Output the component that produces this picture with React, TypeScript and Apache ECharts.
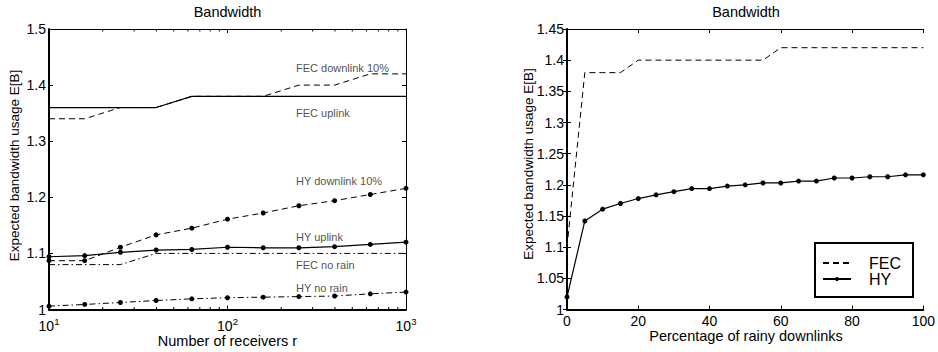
import React, { useEffect, useRef } from "react";
import * as echarts from "echarts";

// ---------- data ----------
const receivers = [10, 15.85, 25.12, 39.81, 63.1, 100, 158.5, 251.2, 398.1, 631, 1000];
const fecDownlink10 = [1.34, 1.34, 1.36, 1.36, 1.38, 1.38, 1.38, 1.40, 1.40, 1.42, 1.42];
const fecUplink = [1.36, 1.36, 1.36, 1.36, 1.38, 1.38, 1.38, 1.38, 1.38, 1.38, 1.38];
const hyDownlink10 = [1.087, 1.087, 1.111, 1.133, 1.145, 1.161, 1.172, 1.185, 1.194, 1.205, 1.216];
const hyUplink = [1.094, 1.096, 1.102, 1.106, 1.107, 1.111, 1.110, 1.110, 1.112, 1.116, 1.120];
const fecNoRain = [1.08, 1.08, 1.08, 1.10, 1.10, 1.10, 1.10, 1.10, 1.10, 1.10, 1.10];
const hyNoRain = [1.006, 1.009, 1.0125, 1.016, 1.019, 1.021, 1.022, 1.023, 1.024, 1.028, 1.031];

const rainyPct = [0, 5, 10, 15, 20, 25, 30, 35, 40, 45, 50, 55, 60, 65, 70, 75, 80, 85, 90, 95, 100];
const fecRainy = [1.10, 1.38, 1.38, 1.38, 1.40, 1.40, 1.40, 1.40, 1.40, 1.40, 1.40, 1.40, 1.42, 1.42, 1.42, 1.42, 1.42, 1.42, 1.42, 1.42, 1.42];
const hyRainy = [1.020, 1.142, 1.161, 1.170, 1.178, 1.184, 1.189, 1.194, 1.194, 1.198, 1.200, 1.203, 1.203, 1.206, 1.206, 1.211, 1.211, 1.213, 1.213, 1.216, 1.216];

const minorLogTicks = [20, 30, 40, 50, 60, 70, 80, 90, 200, 300, 400, 500, 600, 700, 800, 900];

// annotation labels: [x (receivers), y (E[B]), text]
const annotations: [number, number, string][] = [
  [242, 1.430, "FEC downlink 10%"],
  [242, 1.350, "FEC uplink"],
  [242, 1.229, "HY downlink 10%"],
  [242, 1.129, "HY uplink"],
  [242, 1.079, "FEC no rain"],
  [242, 1.038, "HY no rain"],
];

const FONT = "'Liberation Sans', Arial, Helvetica, sans-serif";
const BLACK = "#000";
const DASH = [6, 4];
const DASHDOT = [6, 3, 1.5, 3];

const zip = (xs: number[], ys: number[]) => xs.map((x, i) => [x, ys[i]]);

export default function App() {
  const ref = useRef<HTMLDivElement>(null);
  useEffect(() => {
    if (!ref.current) return;
    const chart = echarts.init(ref.current, undefined, { renderer: "svg" });

    const labelStyle = { color: BLACK, fontFamily: FONT, fontSize: 14 };

    const bottomAxisLine = { show: true, lineStyle: { color: BLACK, width: 2 } };
    const topAxisLine = { show: true, lineStyle: { color: BLACK, width: 1 } };
    const tick = { show: true, inside: true, length: 4, lineStyle: { color: BLACK, width: 1 } };

    const lineBase = {
      type: "line" as const,
      smooth: false,
      showSymbol: true,
      symbol: "circle",
      symbolSize: 5,
      itemStyle: { color: BLACK },
      emphasis: { disabled: true },
    };

    const option: any = {
      animation: false,
      backgroundColor: "#fff",
      grid: [
        { left: 49, top: 29, width: 357, height: 280.5, show: false },
        { left: 567, top: 29, width: 358, height: 280.5, show: false },
      ],
      xAxis: [
        {
          gridIndex: 0,
          type: "log",
          logBase: 10,
          min: 10,
          max: 1000,
          position: "bottom",
          axisLine: bottomAxisLine,
          axisTick: tick,
          splitLine: { show: false },
          axisLabel: {
            margin: 7,
            color: BLACK,
            fontFamily: FONT,
            formatter: (v: number) => `{b|10}{s|${Math.round(Math.log10(v))}}`,
            rich: {
              b: { fontSize: 14, fontFamily: FONT, color: BLACK, verticalAlign: "bottom" },
              s: { fontSize: 9.5, fontFamily: FONT, color: BLACK, verticalAlign: "bottom", padding: [0, 0, 6, 0] },
            },
          },
        },
        {
          gridIndex: 0,
          type: "log",
          logBase: 10,
          min: 10,
          max: 1000,
          position: "top",
          axisLine: topAxisLine,
          axisTick: tick,
          axisLabel: { show: false },
          splitLine: { show: false },
        },
        {
          gridIndex: 1,
          type: "value",
          min: 0,
          max: 100,
          interval: 20,
          position: "bottom",
          axisLine: bottomAxisLine,
          axisTick: tick,
          splitLine: { show: false },
          axisLabel: { ...labelStyle, margin: 4 },
        },
        {
          gridIndex: 1,
          type: "value",
          min: 0,
          max: 100,
          interval: 20,
          position: "top",
          axisLine: topAxisLine,
          axisTick: tick,
          axisLabel: { show: false },
          splitLine: { show: false },
        },
      ],
      yAxis: [
        {
          gridIndex: 0,
          type: "value",
          min: 1,
          max: 1.5,
          interval: 0.1,
          position: "left",
          axisLine: bottomAxisLine,
          axisTick: tick,
          splitLine: { show: false },
          axisLabel: { ...labelStyle, margin: 3 },
        },
        {
          gridIndex: 0,
          type: "value",
          min: 1,
          max: 1.5,
          interval: 0.1,
          position: "right",
          axisLine: topAxisLine,
          axisTick: tick,
          axisLabel: { show: false },
          splitLine: { show: false },
        },
        {
          gridIndex: 1,
          type: "value",
          min: 1,
          max: 1.45,
          interval: 0.05,
          position: "left",
          axisLine: bottomAxisLine,
          axisTick: tick,
          splitLine: { show: false },
          axisLabel: { ...labelStyle, margin: 3 },
        },
        {
          gridIndex: 1,
          type: "value",
          min: 1,
          max: 1.45,
          interval: 0.05,
          position: "right",
          axisLine: topAxisLine,
          axisTick: tick,
          axisLabel: { show: false },
          splitLine: { show: false },
        },
      ],
      legend: {
        data: [
          { name: "FEC", itemStyle: { color: "rgba(0,0,0,0)", borderWidth: 0 } },
          { name: "HY" },
        ],
        orient: "vertical",
        left: 815,
        top: 243,
        borderColor: BLACK,
        borderWidth: 2,
        borderRadius: 0,
        backgroundColor: "#fff",
        padding: [12, 12, 10, 7],
        itemWidth: 28,
        itemHeight: 5,
        itemGap: 0,
        selectedMode: false,
        textStyle: { color: BLACK, fontFamily: FONT, fontSize: 16, padding: [0, 0, 0, 13] },
      },
      series: [
        // ----- left panel -----
        {
          ...lineBase,
          name: "FEC downlink 10%",
          xAxisIndex: 0,
          yAxisIndex: 0,
          showSymbol: false,
          data: zip(receivers, fecDownlink10),
          lineStyle: { color: BLACK, width: 1, type: DASH },
        },
        {
          ...lineBase,
          name: "FEC uplink",
          xAxisIndex: 0,
          yAxisIndex: 0,
          showSymbol: false,
          data: zip(receivers, fecUplink),
          lineStyle: { color: BLACK, width: 1.2, type: "solid" },
        },
        {
          ...lineBase,
          name: "HY downlink 10%",
          xAxisIndex: 0,
          yAxisIndex: 0,
          data: zip(receivers, hyDownlink10),
          lineStyle: { color: BLACK, width: 1, type: DASH },
        },
        {
          ...lineBase,
          name: "HY uplink",
          xAxisIndex: 0,
          yAxisIndex: 0,
          data: zip(receivers, hyUplink),
          lineStyle: { color: BLACK, width: 1.2, type: "solid" },
        },
        {
          ...lineBase,
          name: "FEC no rain",
          xAxisIndex: 0,
          yAxisIndex: 0,
          showSymbol: false,
          data: zip(receivers, fecNoRain),
          lineStyle: { color: BLACK, width: 1, type: DASHDOT },
        },
        {
          ...lineBase,
          name: "HY no rain",
          xAxisIndex: 0,
          yAxisIndex: 0,
          data: zip(receivers, hyNoRain),
          lineStyle: { color: BLACK, width: 1, type: DASHDOT },
        },
        {
          type: "scatter",
          name: "annotations",
          xAxisIndex: 0,
          yAxisIndex: 0,
          symbolSize: 0,
          silent: true,
          data: annotations,
          label: {
            show: true,
            position: [0, 0],
            align: "left",
            verticalAlign: "middle",
            color: "#222",
            fontFamily: FONT,
            fontSize: 11,
            formatter: (p: any) => p.value[2],
          },
        },
        {
          type: "custom",
          name: "minorTicks",
          xAxisIndex: 0,
          yAxisIndex: 0,
          silent: true,
          clip: false,
          data: minorLogTicks.map((v) => [v, 1]),
          renderItem: (params: any, api: any) => {
            const x = api.coord([api.value(0), 1])[0];
            const cs = params.coordSys;
            const yb = cs.y + cs.height;
            const yt = cs.y;
            const st = { stroke: BLACK, lineWidth: 1 };
            return {
              type: "group",
              children: [
                { type: "line", shape: { x1: x, y1: yb, x2: x, y2: yb - 2.5 }, style: st },
                { type: "line", shape: { x1: x, y1: yt, x2: x, y2: yt + 2.5 }, style: st },
              ],
            };
          },
        },
        // ----- right panel -----
        {
          ...lineBase,
          name: "FEC",
          xAxisIndex: 2,
          yAxisIndex: 2,
          showSymbol: false,
          symbol: "none",
          data: zip(rainyPct, fecRainy),
          lineStyle: { color: BLACK, width: 1, type: DASH },
        },
        {
          ...lineBase,
          name: "HY",
          xAxisIndex: 2,
          yAxisIndex: 2,
          data: zip(rainyPct, hyRainy),
          lineStyle: { color: BLACK, width: 1.2, type: "solid" },
        },
      ],
      graphic: [
        { type: "text", x: 227.5, y: 12, style: { text: "Bandwidth", align: "center", verticalAlign: "middle", fontSize: 14.5, fontFamily: FONT, fill: BLACK } },
        { type: "text", x: 746, y: 12, style: { text: "Bandwidth", align: "center", verticalAlign: "middle", fontSize: 14.5, fontFamily: FONT, fill: BLACK } },
        { type: "text", x: 227.5, y: 341, style: { text: "Number of receivers r", align: "center", verticalAlign: "middle", fontSize: 14.5, fontFamily: FONT, fill: BLACK } },
        { type: "text", x: 746, y: 336, style: { text: "Percentage of rainy downlinks", align: "center", verticalAlign: "middle", fontSize: 14.5, fontFamily: FONT, fill: BLACK } },
        { type: "text", x: 14, y: 165.5, rotation: Math.PI / 2, style: { text: "Expected bandwidth usage E[B]", align: "center", verticalAlign: "middle", fontSize: 13.5, fontFamily: FONT, fill: BLACK } },
        { type: "text", x: 528, y: 164, rotation: Math.PI / 2, style: { text: "Expected bandwidth usage E[B]", align: "center", verticalAlign: "middle", fontSize: 13.5, fontFamily: FONT, fill: BLACK } },
      ],
    };

    chart.setOption(option);
    return () => chart.dispose();
  }, []);

  return (
    <div
      ref={ref}
      style={{ position: "fixed", left: 0, top: 0, width: 938, height: 352, background: "#fff" }}
    />
  );
}
